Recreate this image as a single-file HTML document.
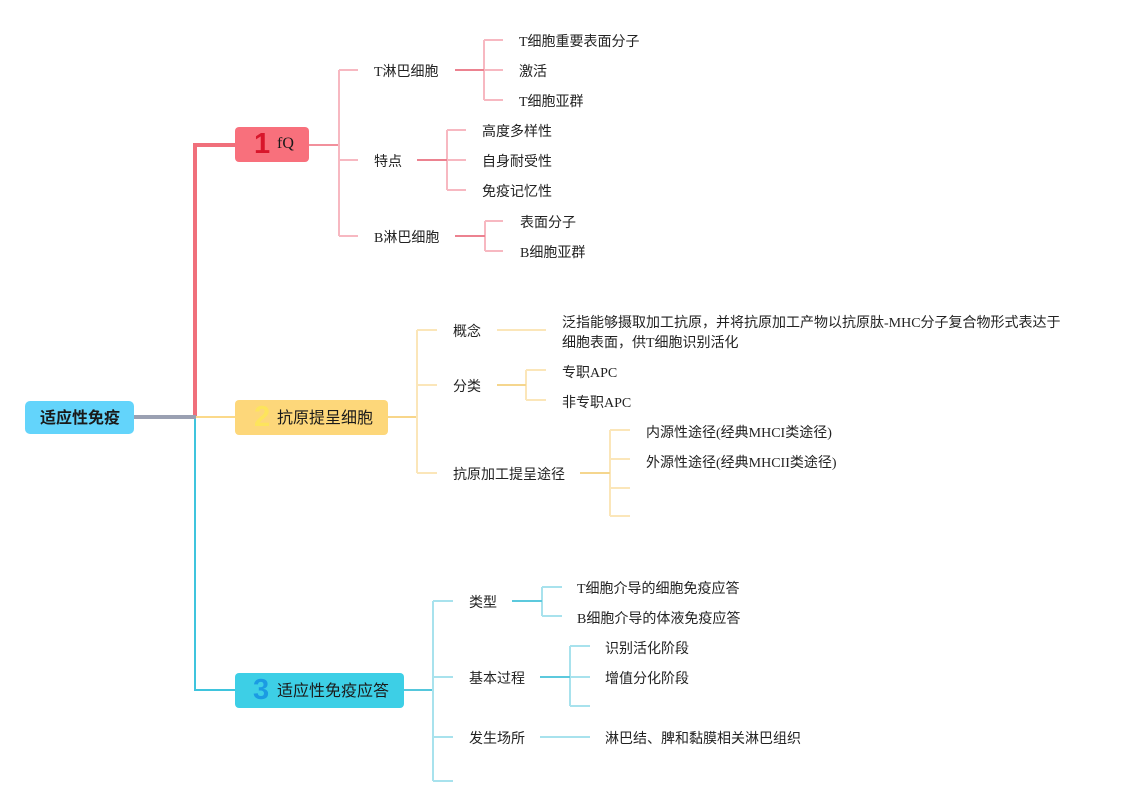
<!DOCTYPE html>
<html><head><meta charset="utf-8">
<style>
html,body{margin:0;padding:0;background:#fff;}
body{width:1121px;height:806px;position:relative;overflow:hidden;font-family:"Liberation Serif","Noto Sans CJK SC",serif;color:#222;}
.t{position:absolute;font-size:14px;line-height:20px;white-space:nowrap;}
.node{position:absolute;border-radius:4px;}
.num{position:absolute;font-family:"Liberation Sans","DejaVu Sans",sans-serif;font-weight:bold;font-size:29px;line-height:35px;}
.nt{position:absolute;font-size:16px;line-height:35px;white-space:nowrap;color:#1a1a1a;}
svg{position:absolute;left:0;top:0;}
</style></head><body>
<svg width="1121" height="806" viewBox="0 0 1121 806" fill="none" stroke-linecap="butt">
  <path d="M195,417 V145 H235" stroke="#f06f7b" stroke-width="4"/>
  <path d="M195,417 V690 H235" stroke="#3fc4dd" stroke-width="2"/>
  <path d="M195,417 H235" stroke="#fbd98a" stroke-width="2"/>
  <path d="M134,417 H196" stroke="#9aa0b2" stroke-width="4"/>

  <path d="M309,145 H339" stroke="#f2909c" stroke-width="2"/>
  <g stroke="#f7b8c1" stroke-width="2">
    <path d="M339,70 V236"/>
    <path d="M339,70 H358 M339,160 H358 M339,236 H358"/>
    <path d="M484,40 V100 M484,40 H503 M484,70 H503 M484,100 H503"/>
    <path d="M447,130 V190 M447,130 H466 M447,160 H466 M447,190 H466"/>
    <path d="M485,221 V251 M485,221 H503 M485,251 H503"/>
  </g>
  <g stroke="#ec8290" stroke-width="2">
    <path d="M455,70 H484"/>
    <path d="M417,160 H447"/>
    <path d="M455,236 H485"/>
  </g>

  <path d="M388,417 H417" stroke="#f8d68a" stroke-width="2"/>
  <g stroke="#fbe6b9" stroke-width="2">
    <path d="M417,330 V473 M417,330 H437 M417,385 H437 M417,473 H437"/>
    <path d="M497,330 H546"/>
    <path d="M526,370 V400 M526,370 H546 M526,400 H546"/>
    <path d="M610,430 V516 M610,430 H630 M610,459 H630 M610,488 H630 M610,516 H630"/>
  </g>
  <g stroke="#f5d68e" stroke-width="2">
    <path d="M497,385 H526"/>
    <path d="M580,473 H610"/>
  </g>

  <path d="M404,690 H433" stroke="#55c7dc" stroke-width="2"/>
  <g stroke="#a8e2ed" stroke-width="2">
    <path d="M433,601 V781 M433,601 H453 M433,677 H453 M433,737 H453 M433,781 H453"/>
    <path d="M542,587 V616 M542,587 H562 M542,616 H562"/>
    <path d="M570,646 V706 M570,646 H590 M570,677 H590 M570,706 H590"/>
    <path d="M540,737 H590"/>
  </g>
  <g stroke="#5cc9dd" stroke-width="2">
    <path d="M512,601 H542"/>
    <path d="M540,677 H570"/>
  </g>
</svg>

<div class="node" style="left:25px;top:401px;width:109px;height:33px;background:#63d4fb;border-radius:5px;"></div>
<div class="nt" style="left:40px;top:401px;font-weight:bold;line-height:35px;">适应性免疫</div>

<div class="node" style="left:235px;top:127px;width:74px;height:35px;background:#f8707c;"></div>
<div class="num" style="left:254px;top:127px;color:#d8162b;">1</div>
<div class="nt" style="left:277px;top:126px;">fQ</div>

<div class="node" style="left:235px;top:400px;width:153px;height:35px;background:#fdd77a;"></div>
<div class="num" style="left:254px;top:400px;color:#fde45c;">2</div>
<div class="nt" style="left:277px;top:401px;">抗原提呈细胞</div>

<div class="node" style="left:235px;top:673px;width:169px;height:35px;background:#3dcfe6;"></div>
<div class="num" style="left:253px;top:673px;color:#1b9be3;">3</div>
<div class="nt" style="left:277px;top:674px;">适应性免疫应答</div>

<div class="t" style="left:374px;top:63px;">T淋巴细胞</div>
<div class="t" style="left:374px;top:153px;">特点</div>
<div class="t" style="left:374px;top:229px;">B淋巴细胞</div>
<div class="t" style="left:519px;top:33px;">T细胞重要表面分子</div>
<div class="t" style="left:519px;top:63px;">激活</div>
<div class="t" style="left:519px;top:93px;">T细胞亚群</div>
<div class="t" style="left:482px;top:123px;">高度多样性</div>
<div class="t" style="left:482px;top:153px;">自身耐受性</div>
<div class="t" style="left:482px;top:183px;">免疫记忆性</div>
<div class="t" style="left:520px;top:214px;">表面分子</div>
<div class="t" style="left:520px;top:244px;">B细胞亚群</div>

<div class="t" style="left:453px;top:323px;">概念</div>
<div class="t" style="left:453px;top:378px;">分类</div>
<div class="t" style="left:453px;top:466px;">抗原加工提呈途径</div>
<div class="t" style="left:562px;top:314px;">泛指能够摄取加工抗原，并将抗原加工产物以抗原肽-MHC分子复合物形式表达于</div>
<div class="t" style="left:562px;top:334px;">细胞表面，供T细胞识别活化</div>
<div class="t" style="left:562px;top:364px;">专职APC</div>
<div class="t" style="left:562px;top:394px;">非专职APC</div>
<div class="t" style="left:646px;top:424px;">内源性途径(经典MHCI类途径)</div>
<div class="t" style="left:646px;top:454px;">外源性途径(经典MHCII类途径)</div>

<div class="t" style="left:469px;top:594px;">类型</div>
<div class="t" style="left:469px;top:670px;">基本过程</div>
<div class="t" style="left:469px;top:730px;">发生场所</div>
<div class="t" style="left:577px;top:580px;">T细胞介导的细胞免疫应答</div>
<div class="t" style="left:577px;top:610px;">B细胞介导的体液免疫应答</div>
<div class="t" style="left:605px;top:640px;">识别活化阶段</div>
<div class="t" style="left:605px;top:670px;">增值分化阶段</div>
<div class="t" style="left:605px;top:730px;">淋巴结、脾和黏膜相关淋巴组织</div>
</body></html>
